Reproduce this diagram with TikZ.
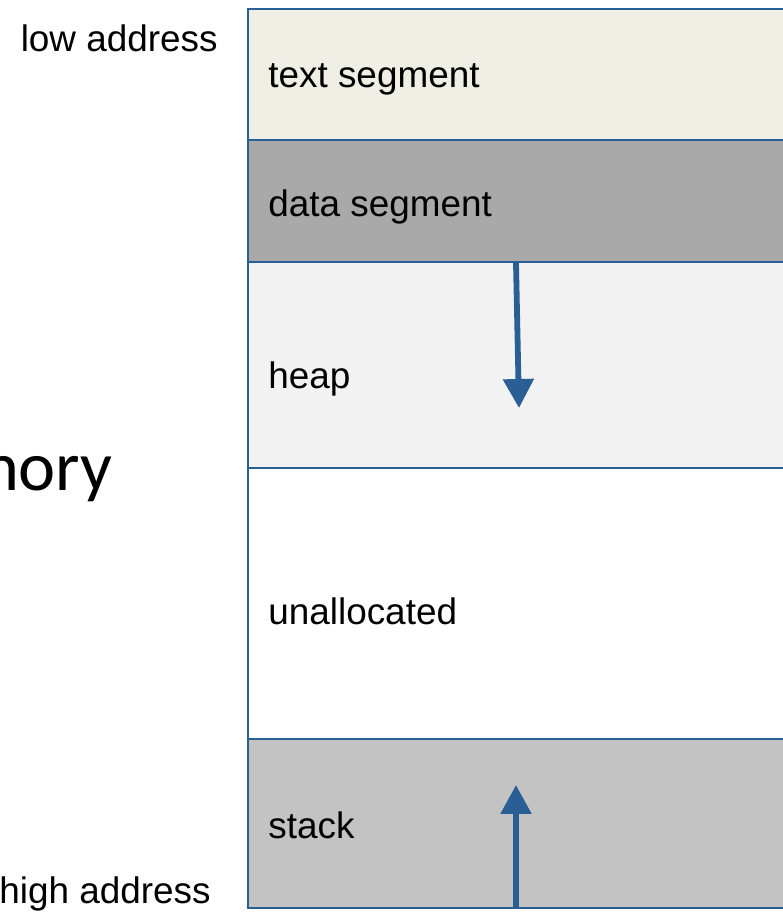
\documentclass[tikz,border=0pt]{standalone}
\usepackage{fontspec}
\setmainfont{Liberation Sans}
\newfontfamily\bigfont{Carlito}
\usetikzlibrary{positioning,arrows.meta}
\definecolor{segblue}{RGB}{42,95,150}
\definecolor{textfill}{RGB}{239,239,230}
\definecolor{datafill}{RGB}{169,169,169}
\definecolor{heapfill}{RGB}{242,242,242}
\definecolor{stackfill}{RGB}{195,195,195}
\tikzset{
  seg/.style={draw=segblue,line width=1.2pt,outer sep=0pt,inner sep=0pt,
    minimum width=11.04cm,anchor=north west},
  lbl/.style={anchor=base west,inner sep=0pt,font=\fontsize{21}{25}\selectfont},
  growarrow/.style={draw=segblue,line width=3.3pt,-{Triangle[length=16.5pt,width=17pt]}}
}
\begin{document}
\begin{tikzpicture}[x=0.02cm,y=-0.02cm]
  \useasboundingbox (0,0) rectangle (782,912);
  % memory segments, top to bottom
  \node[seg,fill=textfill,minimum height=2.62cm] (textseg) at (248,9) {};
  \node[seg,fill=datafill,minimum height=2.44cm,below=0pt of textseg] (dataseg) {};
  \node[seg,fill=heapfill,minimum height=4.12cm,below=0pt of dataseg] (heapseg) {};
  \node[seg,fill=white,minimum height=5.42cm,below=0pt of heapseg] (freeseg) {};
  \node[seg,fill=stackfill,minimum height=3.38cm,below=0pt of freeseg] (stackseg) {};
  % labels
  \node[lbl] (textlbl) at (268,88) {text segment};
  \node[lbl] (datalbl) at (268,216) {data segment};
  \node[lbl] (heaplbl) at (268,388) {heap};
  \node[lbl] (freelbl) at (268,624) {unallocated};
  \node[lbl] (stacklbl) at (268,838) {stack};
  \node[lbl,anchor=base east] (lowlbl) at (218,52) {low address};
  \node[lbl,anchor=base east] (highlbl) at (211,903) {high address};
  \node[anchor=base east,inner sep=0pt,font=\bigfont\fontsize{40}{48}\selectfont] (memlbl) at (113,490) {nory};
  % growth directions
  \coordinate (heaptop) at (516,263);
  \coordinate (heapend) at (519,408);
  \coordinate (stackbot) at (516,908);
  \coordinate (stackend) at (516,785);
  \draw[growarrow] (heaptop) -- (heapend);
  \draw[growarrow] (stackbot) -- (stackend);
\end{tikzpicture}
\end{document}
